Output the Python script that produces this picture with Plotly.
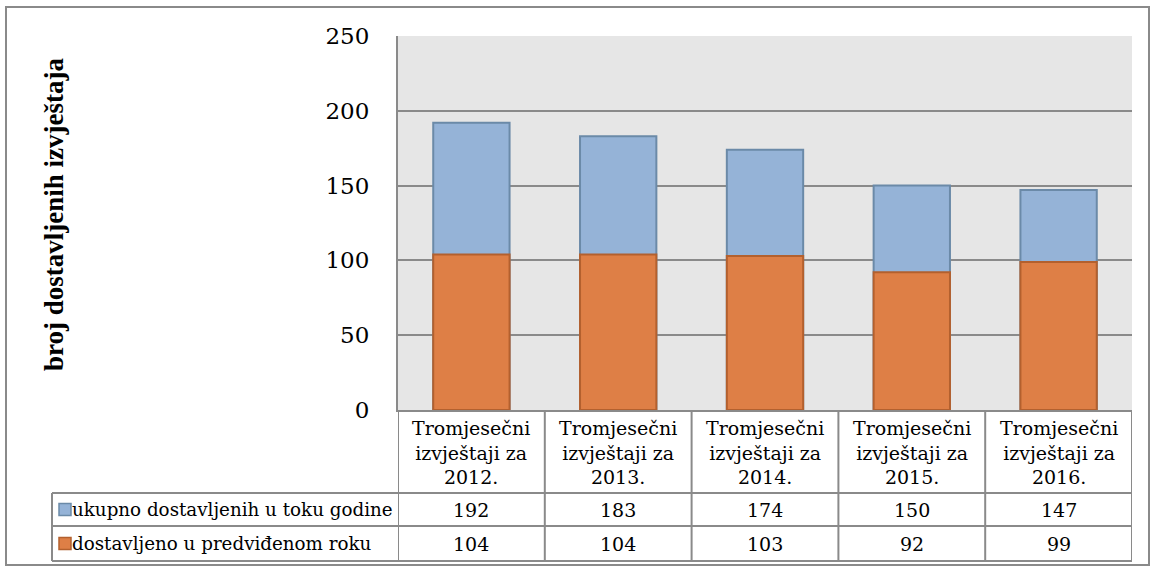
import plotly.graph_objects as go

header_lines = ["Tromjesečni", "izvještaji za"]
years = ["2012.", "2013.", "2014.", "2015.", "2016."]
series_names = ["ukupno dostavljenih u toku godine", "dostavljeno u predviđenom roku"]
total_values = [192, 183, 174, 150, 147]
ontime_values = [104, 104, 103, 92, 99]
y_ticks = [0, 50, 100, 150, 200, 250]
y_title = "broj dostavljenih izvještaja"

categories = ["<br>".join(header_lines + [y]) for y in years]

BLUE, BLUE_EDGE = "#95b3d7", "#6b8aa8"
ORANGE, ORANGE_EDGE = "#de7f46", "#b3602e"
GRID = "#8a8a8a"
SERIF = "DejaVu Serif"

W, H = 1152, 569
L, R, T, B = 398, 20, 36, 159
pw, ph = W - L - R, H - T - B


def px(xp):
    return (xp - L) / pw


def py(yp):
    return (H - B - yp) / ph


xs = list(range(len(categories)))

fig = go.Figure()
fig.add_trace(go.Bar(x=xs, y=total_values, name=series_names[0], width=0.52,
                     marker=dict(color=BLUE, line=dict(color=BLUE_EDGE, width=2)),
                     showlegend=False))
fig.add_trace(go.Bar(x=xs, y=ontime_values, name=series_names[1], width=0.52,
                     marker=dict(color=ORANGE, line=dict(color=ORANGE_EDGE, width=2)),
                     showlegend=False))

shapes = []
annotations = []
line = dict(color=GRID, width=2)

# outer chart border
shapes.append(dict(type="rect", xref="paper", yref="paper", x0=px(6), x1=px(1149),
                   y0=py(565), y1=py(7), line=line, layer="below"))

# table rows geometry (pixel)
header_bot = 493
row_tops = [493, 526]
row_bot = 561
legend_left = 52
for yy in row_tops + [row_bot]:
    shapes.append(dict(type="line", xref="paper", yref="paper", x0=px(legend_left), x1=1,
                       y0=py(yy), y1=py(yy), line=line))
shapes.append(dict(type="line", xref="paper", yref="paper", x0=px(legend_left), x1=px(legend_left),
                   y0=py(row_tops[0]), y1=py(row_bot), line=line))
for i in range(len(categories) + 1):
    shapes.append(dict(type="line", xref="x", yref="paper", x0=i - 0.5, x1=i - 0.5,
                       y0=0, y1=py(row_bot), line=line))

# header cells (category labels)
for i, c in enumerate(categories):
    annotations.append(dict(x=i, xref="x", y=py((410 + header_bot) / 2 + 1), yref="paper", text=c,
                            showarrow=False, font=dict(family=SERIF, size=19, color="black"),
                            xanchor="center", yanchor="middle", align="center"))

# table values
row_values = [total_values, ontime_values]
row_colors = [(BLUE, BLUE_EDGE), (ORANGE, ORANGE_EDGE)]
for r, vals in enumerate(row_values):
    top = row_tops[r]
    bot = row_tops[r + 1] if r + 1 < len(row_tops) else row_bot
    cy = (top + bot) / 2
    for i, v in enumerate(vals):
        annotations.append(dict(x=i, xref="x", y=py(cy), yref="paper", text=str(v),
                                showarrow=False, font=dict(family=SERIF, size=19, color="black"),
                                xanchor="center", yanchor="middle"))
    annotations.append(dict(x=px(70), xref="paper", y=py(cy), yref="paper", text=series_names[r],
                            showarrow=False, font=dict(family=SERIF, size=18.3, color="black"),
                            xanchor="left", yanchor="middle"))
    fc, ec = row_colors[r]
    shapes.append(dict(type="rect", xref="paper", yref="paper", x0=px(59), x1=px(71),
                       y0=py(cy + 6), y1=py(cy - 6), fillcolor=fc, line=dict(color=ec, width=1.5)))

# y-axis title
annotations.append(dict(x=px(54), xref="paper", y=py(215), yref="paper", text="<b>" + y_title + "</b>",
                        textangle=-90, showarrow=False,
                        font=dict(family="Liberation Serif", size=27, color="black"),
                        xanchor="center", yanchor="middle"))

fig.update_layout(
    width=W, height=H,
    margin=dict(l=L, r=R, t=T, b=B, pad=0),
    barmode="overlay",
    paper_bgcolor="white",
    plot_bgcolor="#e6e6e6",
    shapes=shapes,
    annotations=annotations,
    xaxis=dict(range=[-0.5, len(categories) - 0.5], tickvals=xs, showticklabels=False,
               showgrid=False, zeroline=False, showline=True, linecolor=GRID, linewidth=2,
               ticks="", fixedrange=True),
    yaxis=dict(range=[0, 250], tickvals=y_ticks, showgrid=True, gridcolor=GRID, gridwidth=2,
               zeroline=False, showline=True, linecolor=GRID, linewidth=2, ticks="",
               tickfont=dict(family=SERIF, size=23, color="black"), ticklabelstandoff=22,
               fixedrange=True),
)

fig.write_html("out.html", config={"displayModeBar": False},
               post_script="document.body.style.margin='0';document.body.style.overflow='hidden';")
